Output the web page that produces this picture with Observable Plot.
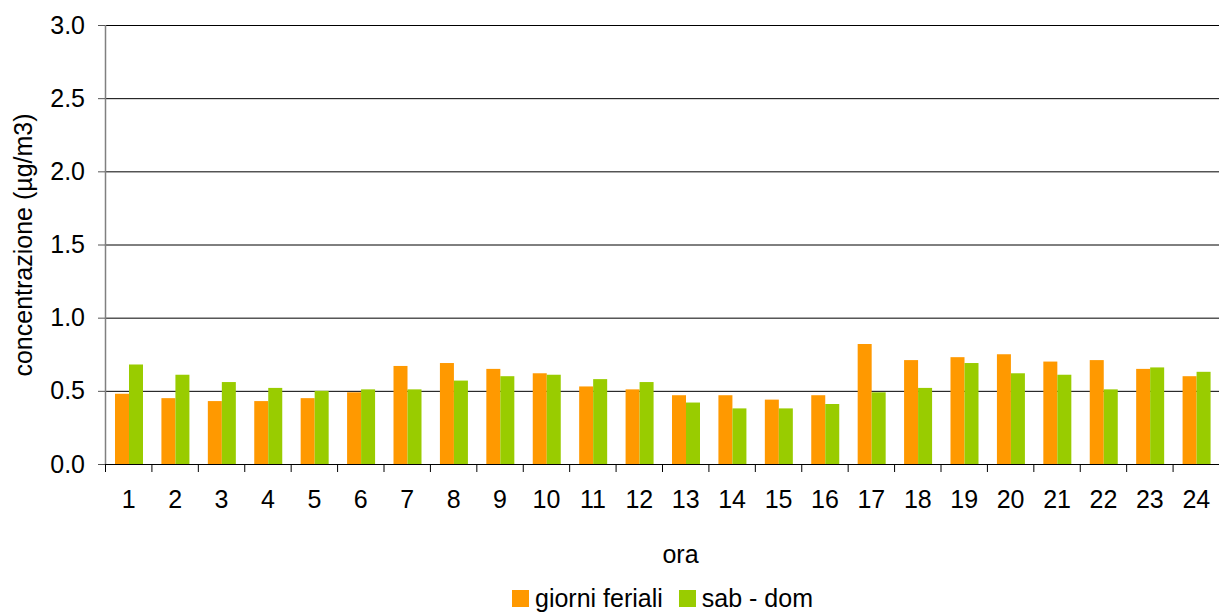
<!DOCTYPE html>
<html>
<head>
<meta charset="utf-8">
<script src="https://cdn.jsdelivr.net/npm/d3@7"></script>
<script src="https://cdn.jsdelivr.net/npm/@observablehq/plot@0.6"></script>
<style>
  html, body { margin: 0; padding: 0; background: #fff; }
  body { font-family: "Liberation Sans", Arial, sans-serif; color: #000; width: 1219px; }
  #legend { display: flex; justify-content: flex-start; align-items: center; font-size: 25px; height: 49px; padding-left: 512px; box-sizing: border-box; width: 1219px; }
  .item { display: flex; align-items: center; margin-right: 16px; }
  .sw { width: 17px; height: 17px; margin-right: 6px; }
</style>
</head>
<body>
<div id="chart"></div>
<div id="legend"></div>
<script>
const hours = [1, 2, 3, 4, 5, 6, 7, 8, 9, 10, 11, 12, 13, 14, 15, 16, 17, 18, 19, 20, 21, 22, 23, 24];
const feriali = [0.48, 0.45, 0.43, 0.43, 0.45, 0.49, 0.67, 0.69, 0.65, 0.62, 0.53, 0.51, 0.47, 0.47, 0.44, 0.47, 0.82, 0.71, 0.73, 0.75, 0.70, 0.71, 0.65, 0.60];
const sabdom  = [0.68, 0.61, 0.56, 0.52, 0.50, 0.51, 0.51, 0.57, 0.60, 0.61, 0.58, 0.56, 0.42, 0.38, 0.38, 0.41, 0.49, 0.52, 0.69, 0.62, 0.61, 0.51, 0.66, 0.63];
const yTicks = [0, 0.5, 1.0, 1.5, 2.0, 2.5, 3.0];
const seriesNames = ["giorni feriali", "sab - dom"];
const colors = ["#FF9900", "#99CC00"];
const yLabel = "concentrazione (µg/m3)";
const xLabel = "ora";

const rows = hours.map((h, i) => ({hour: h, feriali: feriali[i], sabdom: sabdom[i]}));

const W = 1219, H = 574, ML = 105, MR = 0, MT = 25, MB = 110;
const bw = (W - ML - MR) / hours.length;
const plotH = H - MT - MB;
const FS = 25;

const chart = Plot.plot({
  width: W,
  height: H,
  marginLeft: ML,
  marginRight: MR,
  marginTop: MT,
  marginBottom: MB,
  style: {fontFamily: "'Liberation Sans', Arial, sans-serif", fontSize: FS + "px", color: "#000", background: "#fff"},
  x: {type: "band", domain: hours, paddingInner: 0, paddingOuter: 0, round: false},
  y: {domain: [0, 3]},
  marks: [
    Plot.gridY(yTicks, {stroke: "#000", strokeOpacity: 1, strokeWidth: 1}),
    Plot.barY(rows, {x: "hour", y: "feriali", fill: colors[0], insetLeft: 10, insetRight: bw - 24}),
    Plot.barY(rows, {x: "hour", y: "sabdom", fill: colors[1], insetLeft: 24, insetRight: bw - 38}),
    Plot.ruleY([0], {stroke: "#000"}),
    Plot.ruleX([hours[0]], {x: d => d, dx: -bw / 2, stroke: "#808080", strokeWidth: 1.5}),
    Plot.ruleX(hours, {x: d => d, dx: -bw / 2, insetTop: plotH, insetBottom: -8, stroke: "#000"}),
    Plot.axisY(yTicks, {
      tickSize: 7, tickPadding: 13.5, stroke: "#555",
      tickFormat: d3.format(".1f"), fontSize: FS,
      label: yLabel, labelAnchor: "center", labelOffset: 91, labelArrow: "none"
    }),
    Plot.axisX({
      tickSize: 0, tickPadding: 26, fontSize: FS, label: null
    }),
    Plot.text([xLabel], {
      frameAnchor: "bottom", text: d => d, fontSize: FS,
      lineAnchor: "bottom", dy: 98, dx: 18
    })
  ]
});
document.getElementById("chart").appendChild(chart);

const legend = document.getElementById("legend");
seriesNames.forEach((name, i) => {
  const item = document.createElement("div");
  item.className = "item";
  const sw = document.createElement("div");
  sw.className = "sw";
  sw.style.background = colors[i];
  const t = document.createElement("span");
  t.textContent = name;
  item.appendChild(sw);
  item.appendChild(t);
  legend.appendChild(item);
});
</script>
</body>
</html>
